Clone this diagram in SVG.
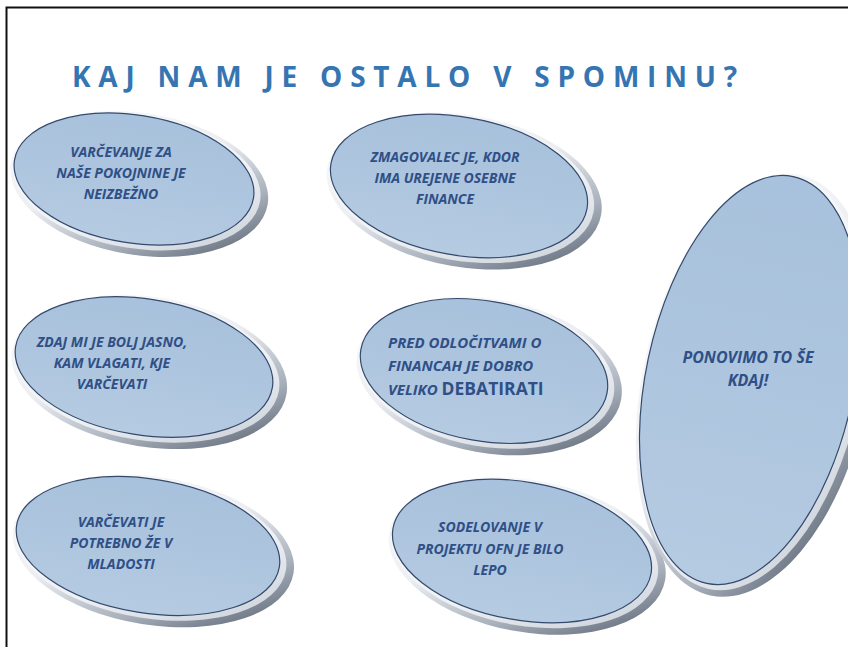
<svg xmlns="http://www.w3.org/2000/svg" width="848" height="647" viewBox="0 0 848 647">
<style>
.t{font-family:"Open Sans","Liberation Sans",sans-serif;font-weight:bold;font-style:italic;font-size:14px;fill:#2f4f86;text-anchor:middle}
.l{text-anchor:start;font-size:15px}
.title{font-family:"Open Sans","Liberation Sans",sans-serif;font-weight:bold;font-size:28px;fill:#3575b2}
.rim{fill:url(#rimG)}
.band{fill:url(#bandG)}
.face{fill:url(#faceG);stroke:#34496b;stroke-width:1.2}
</style>
<defs>
<linearGradient id="rimG" x1="0" y1="0" x2="1" y2="1">
<stop offset="0" stop-color="#ffffff"/>
<stop offset="0.45" stop-color="#eceef2"/>
<stop offset="0.7" stop-color="#a9b1bc"/>
<stop offset="0.88" stop-color="#6b7482"/>
<stop offset="1" stop-color="#9aa2ad"/>
</linearGradient>
<linearGradient id="bandG" x1="0" y1="0" x2="1" y2="1">
<stop offset="0" stop-color="#ffffff"/>
<stop offset="0.6" stop-color="#eef1f5"/>
<stop offset="1" stop-color="#c3cad4"/>
</linearGradient>
<linearGradient id="faceG" x1="0" y1="0" x2="0" y2="1">
<stop offset="0" stop-color="#a8c1dc"/>
<stop offset="0.5" stop-color="#adc5de"/>
<stop offset="1" stop-color="#b5cbe2"/>
</linearGradient>
</defs>
<rect width="848" height="647" fill="#ffffff"/>
<path d="M6.5 647 V7.5 H848" fill="none" stroke="#111" stroke-width="2"/>
<text class="title" x="72" y="87" textLength="665" lengthAdjust="spacing">KAJ NAM JE OSTALO V SPOMINU?</text>

<g id="n1">
<g transform="translate(134,179) rotate(9)">
<ellipse class="rim" cx="6" cy="4" rx="130" ry="71"/>
<ellipse class="band" cx="3" cy="2" rx="125" ry="67"/>
<ellipse class="face" cx="0" cy="0" rx="121" ry="64"/>
</g>
<text class="t" x="121" y="157">VARČEVANJE ZA</text>
<text class="t" x="121" y="178">NAŠE POKOJNINE JE</text>
<text class="t" x="121" y="199">NEIZBEŽNO</text>
</g>

<g id="n2">
<g transform="translate(459,186) rotate(10)">
<ellipse class="rim" cx="6" cy="4" rx="139" ry="76"/>
<ellipse class="band" cx="3" cy="2" rx="134" ry="72"/>
<ellipse class="face" cx="0" cy="0" rx="130" ry="69"/>
</g>
<text class="t" x="445" y="162">ZMAGOVALEC JE, KDOR</text>
<text class="t" x="445" y="183">IMA  UREJENE OSEBNE</text>
<text class="t" x="445" y="204">FINANCE</text>
</g>

<g id="n3">
<g transform="translate(144,367) rotate(9)">
<ellipse class="rim" cx="6" cy="4" rx="139" ry="75"/>
<ellipse class="band" cx="3" cy="2" rx="134" ry="71"/>
<ellipse class="face" cx="0" cy="0" rx="130" ry="68"/>
</g>
<text class="t" x="112" y="347">ZDAJ MI JE BOLJ JASNO,</text>
<text class="t" x="112" y="368">KAM VLAGATI, KJE</text>
<text class="t" x="112" y="389">VARČEVATI</text>
</g>

<g id="n4">
<g transform="translate(484,371) rotate(10)">
<ellipse class="rim" cx="6" cy="4" rx="134" ry="77"/>
<ellipse class="band" cx="3" cy="2" rx="129" ry="73"/>
<ellipse class="face" cx="0" cy="0" rx="125" ry="70"/>
</g>
<text class="t l" x="388" y="348">PRED ODLOČITVAMI O</text>
<text class="t l" x="388" y="371">FINANCAH JE DOBRO</text>
<text class="t l" x="388" y="395">VELIKO <tspan font-style="normal" font-size="17.5px">DEBATIRATI</tspan></text>
</g>

<g id="n5">
<g transform="translate(148,546) rotate(9)">
<ellipse class="rim" cx="6" cy="4" rx="142" ry="74"/>
<ellipse class="band" cx="3" cy="2" rx="137" ry="70"/>
<ellipse class="face" cx="0" cy="0" rx="133" ry="67"/>
</g>
<text class="t" x="121" y="527">VARČEVATI JE</text>
<text class="t" x="121" y="548">POTREBNO ŽE V</text>
<text class="t" x="121" y="569">MLADOSTI</text>
</g>

<g id="n6">
<g transform="translate(522,551) rotate(10)">
<ellipse class="rim" cx="6" cy="4" rx="140" ry="76"/>
<ellipse class="band" cx="3" cy="2" rx="135" ry="72"/>
<ellipse class="face" cx="0" cy="0" rx="131" ry="69"/>
</g>
<text class="t" x="490" y="532">SODELOVANJE V</text>
<text class="t" x="490" y="554">PROJEKTU OFN JE BILO</text>
<text class="t" x="490" y="575">LEPO</text>
</g>

<g id="n7">
<g transform="translate(750,380) rotate(12)">
<ellipse class="rim" cx="6" cy="4" rx="113" ry="215"/>
<ellipse class="band" cx="3" cy="2" rx="108" ry="211"/>
<ellipse class="face" cx="0" cy="0" rx="104" ry="208"/>
</g>
<text class="t" x="748" y="363" style="font-size:16px">PONOVIMO TO ŠE</text>
<text class="t" x="748" y="386" style="font-size:16px">KDAJ!</text>
</g>
</svg>
